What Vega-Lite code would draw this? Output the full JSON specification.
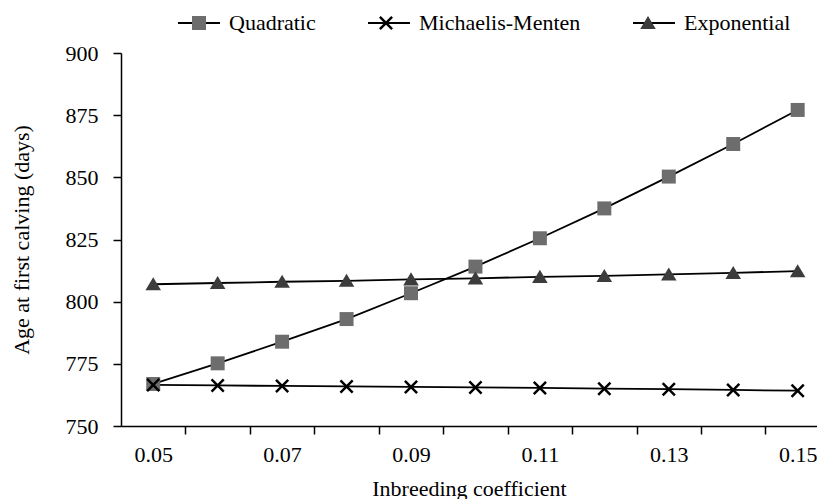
{
  "$schema": "https://vega.github.io/schema/vega-lite/v6.json",
  "width": 696,
  "height": 373,
  "autosize": {"type": "none"},
  "padding": {"left": 121, "top": 53, "right": 0, "bottom": 73},
  "background": "white",
  "config": {
    "view": {"stroke": null},
    "font": "Liberation Serif",
    "axis": {
      "grid": false,
      "domainColor": "black",
      "tickColor": "black",
      "labelColor": "black",
      "titleColor": "black",
      "labelFont": "Liberation Serif",
      "labelFontSize": 22,
      "titleFont": "Liberation Serif",
      "titleFontSize": 22,
      "titleFontWeight": "normal",
      "domainWidth": 1.5,
      "tickWidth": 1.5,
      "tickSize": 8
    }
  },
  "data": {
    "values": [
      {"x": 0.05, "model": "Quadratic", "value": 766.9},
      {"x": 0.06, "model": "Quadratic", "value": 775.2},
      {"x": 0.07, "model": "Quadratic", "value": 783.9},
      {"x": 0.08, "model": "Quadratic", "value": 793.0},
      {"x": 0.09, "model": "Quadratic", "value": 803.4},
      {"x": 0.10, "model": "Quadratic", "value": 814.1},
      {"x": 0.11, "model": "Quadratic", "value": 825.5},
      {"x": 0.12, "model": "Quadratic", "value": 837.5},
      {"x": 0.13, "model": "Quadratic", "value": 850.3},
      {"x": 0.14, "model": "Quadratic", "value": 863.4},
      {"x": 0.15, "model": "Quadratic", "value": 877.1},
      {"x": 0.05, "model": "Michaelis-Menten", "value": 766.5},
      {"x": 0.06, "model": "Michaelis-Menten", "value": 766.3},
      {"x": 0.07, "model": "Michaelis-Menten", "value": 766.1},
      {"x": 0.08, "model": "Michaelis-Menten", "value": 765.9},
      {"x": 0.09, "model": "Michaelis-Menten", "value": 765.7},
      {"x": 0.10, "model": "Michaelis-Menten", "value": 765.5},
      {"x": 0.11, "model": "Michaelis-Menten", "value": 765.3},
      {"x": 0.12, "model": "Michaelis-Menten", "value": 765.0},
      {"x": 0.13, "model": "Michaelis-Menten", "value": 764.8},
      {"x": 0.14, "model": "Michaelis-Menten", "value": 764.5},
      {"x": 0.15, "model": "Michaelis-Menten", "value": 764.2},
      {"x": 0.05, "model": "Exponential", "value": 807.0},
      {"x": 0.06, "model": "Exponential", "value": 807.5},
      {"x": 0.07, "model": "Exponential", "value": 808.0},
      {"x": 0.08, "model": "Exponential", "value": 808.4},
      {"x": 0.09, "model": "Exponential", "value": 809.0},
      {"x": 0.10, "model": "Exponential", "value": 809.4},
      {"x": 0.11, "model": "Exponential", "value": 810.0},
      {"x": 0.12, "model": "Exponential", "value": 810.4},
      {"x": 0.13, "model": "Exponential", "value": 811.0},
      {"x": 0.14, "model": "Exponential", "value": 811.6},
      {"x": 0.15, "model": "Exponential", "value": 812.3}
    ]
  },
  "layer": [
    {
      "mark": {"type": "line", "strokeWidth": 1.8},
      "encoding": {
        "x": {
          "field": "x",
          "type": "quantitative",
          "scale": {"domain": [0.045, 0.153], "nice": false, "zero": false},
          "axis": {
            "title": "Inbreeding coefficient",
            "values": [0.05, 0.055, 0.065, 0.07, 0.075, 0.085, 0.09, 0.095, 0.105, 0.11, 0.115, 0.125, 0.13, 0.135, 0.145, 0.15],
            "labelExpr": "abs(datum.value*100 - round(datum.value*100)) > 0.1 ? '' : format(datum.value, '.2f')",
            "tickOpacity": {"condition": {"test": "abs(datum.value*100 - round(datum.value*100)) > 0.1", "value": 1}, "value": 0},
            "labelOverlap": false,
            "labelFlush": false,
            "labelPadding": 10,
            "titlePadding": 13
          }
        },
        "y": {
          "field": "value",
          "type": "quantitative",
          "scale": {"domain": [750, 900], "nice": false, "zero": false},
          "axis": {
            "title": "Age at first calving (days)",
            "values": [750, 775, 800, 825, 850, 875, 900],
            "labelPadding": 15,
            "titlePadding": 32
          }
        },
        "stroke": {
          "field": "model",
          "type": "nominal",
          "scale": {"domain": ["Quadratic", "Michaelis-Menten", "Exponential"], "range": ["black", "black", "black"]},
          "legend": {
            "orient": "none",
            "legendX": 56,
            "legendY": -52,
            "direction": "horizontal",
            "title": null,
            "symbolType": "stroke",
            "symbolSize": 1764,
            "symbolStrokeWidth": 1.8,
            "labelFont": "Liberation Serif",
            "labelFontSize": 22,
            "labelColor": "black",
            "labelOffset": 8,
            "columnPadding": 48,
            "padding": 0,
            "labelLimit": 400
          }
        }
      }
    },
    {
      "mark": {"type": "point", "filled": true, "size": 1764, "opacity": 1, "strokeWidth": 0},
      "encoding": {
        "x": {"field": "x", "type": "quantitative"},
        "y": {"field": "value", "type": "quantitative"},
        "shape": {
          "field": "model",
          "type": "nominal",
          "scale": {
            "domain": ["Quadratic", "Michaelis-Menten", "Exponential", "none"],
            "range": [
              "M-0.333,-0.333H0.333V0.333H-0.333Z",
              "M-0.333,-0.249L-0.249,-0.333L0,-0.084L0.249,-0.333L0.333,-0.249L0.084,0L0.333,0.249L0.249,0.333L0,0.084L-0.249,0.333L-0.333,0.249L-0.084,0Z",
              "M0,-0.33L0.37,0.29H-0.37Z",
              "circle"
            ]
          },
          "legend": {
            "orient": "none",
            "legendX": 56,
            "legendY": -52,
            "direction": "horizontal",
            "title": null,
            "values": ["Quadratic", "Michaelis-Menten", "Exponential"],
            "symbolSize": 1764,
            "symbolStrokeWidth": 1.8,
            "symbolStrokeColor": "transparent",
            "labelFont": "Liberation Serif",
            "labelFontSize": 22,
            "labelColor": "transparent",
            "labelOffset": 8,
            "columnPadding": 48,
            "padding": 0,
            "labelLimit": 400
          }
        },
        "fill": {
          "field": "model",
          "type": "nominal",
          "scale": {
            "domain": ["Quadratic", "Michaelis-Menten", "Exponential", "none"],
            "range": ["#6d6d6d", "#000000", "#3c3c3c", "#000000"]
          },
          "legend": {
            "orient": "none",
            "legendX": 56,
            "legendY": -52,
            "direction": "horizontal",
            "title": null,
            "values": ["Quadratic", "Michaelis-Menten", "Exponential"],
            "symbolSize": 1764,
            "symbolStrokeWidth": 1.8,
            "symbolStrokeColor": "transparent",
            "labelFont": "Liberation Serif",
            "labelFontSize": 22,
            "labelColor": "transparent",
            "labelOffset": 8,
            "columnPadding": 48,
            "padding": 0,
            "labelLimit": 400
          }
        }
      }
    }
  ]
}
